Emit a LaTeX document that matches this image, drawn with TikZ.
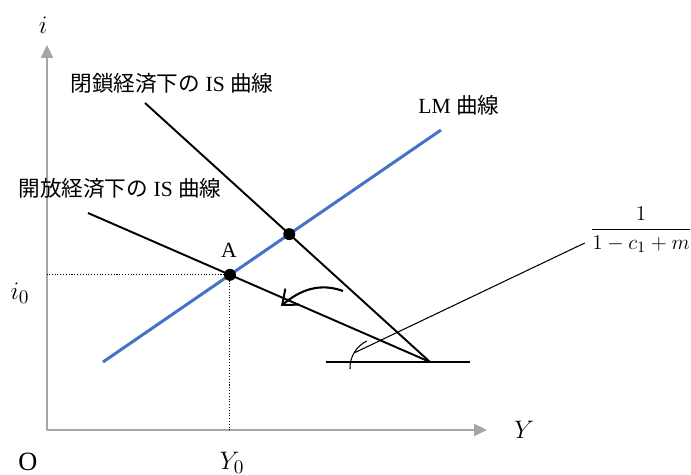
\documentclass[tikz,border=0pt]{standalone}
\usepackage{amsmath,amssymb}
\usepackage{fontspec}
\setmainfont{Liberation Serif}
\newfontfamily\jpfont{Noto Sans CJK JP}
\usepackage{tikz}
\usepackage{xcolor}
\usetikzlibrary{arrows.meta,positioning}
\definecolor{lmblue}{HTML}{4472C4}
\definecolor{axisgray}{HTML}{A6A6A6}

\begin{document}
\begin{tikzpicture}[x=0.02cm,y=0.02cm,
  lbl/.style={inner sep=0pt,font=\fontsize{12.3}{14}\selectfont},
  mlbl/.style={inner sep=0pt,font=\fontsize{15}{17}\selectfont},
  axisline/.style={-{Triangle[length=2.6mm,width=2.4mm]},line width=1.3pt,draw=axisgray},
  isline/.style={line width=1.1pt,draw=black},
  lmline/.style={line width=1.7pt,draw=lmblue},
  guide/.style={densely dotted,line width=0.6pt},
  leader/.style={line width=0.6pt,draw=black},
  dot/.style={circle,fill=black,inner sep=0pt,minimum size=0.24cm},
  shiftarrow/.style={-{Straight Barb[length=2.6mm,width=4.2mm,line width=1.1pt]},line width=1.2pt}
]
\useasboundingbox (0,0) rectangle (691,475);

\coordinate (origin) at (47,45);
\coordinate (itop) at (47,430);
\coordinate (yend) at (487,45);
\coordinate (lmlow) at (103,113);
\coordinate (lmhigh) at (441,345);
\coordinate (closedtop) at (145,372);
\coordinate (opentop) at (88,262);
\coordinate (pivot) at (430,113);
\coordinate (baseleft) at (326,113);
\coordinate (baseright) at (470,113);
\coordinate (A) at (intersection of lmlow--lmhigh and opentop--pivot);
\coordinate (B) at (intersection of lmlow--lmhigh and closedtop--pivot);
\coordinate (arcstart) at (366.8,134);
\coordinate (arcmark) at (354,122);
\coordinate (turnstart) at (343,184);
\coordinate (turnend) at (281,169);

\draw[axisline] (origin) -- (itop);
\draw[axisline] (origin) -- (yend);
\draw[guide] (A) -- (A -| origin);
\draw[guide] (A) -- (A |- origin);

\draw[lmline] (lmlow) -- (lmhigh);
\draw[isline] (closedtop) -- (pivot);
\draw[isline] (opentop) -- (pivot);
\draw[isline] (baseleft) -- (baseright);
\draw[shiftarrow] (turnstart) to[out=160,in=40] (turnend);

\node[dot] (pointA) at (A) {};
\node[dot] (pointB) at (B) {};

\node[mlbl] (ilabel) at (43,450) {$i$};
\node[mlbl] (ylabel) at (524,45) {$Y$};
\node[mlbl] (olabel) at (28,13) {O};
\node[mlbl] (yzero) at (232,12) {$Y_0$};
\node[mlbl] (izero) at (20,182) {$i_0$};
\node[lbl] (alabel) at (229,225) {A};
\node[lbl] (closedlabel) at (172,392) {{\jpfont 閉鎖経済下の} IS {\jpfont 曲線}};
\node[lbl] (openlabel) at (120,287) {{\jpfont 開放経済下の} IS {\jpfont 曲線}};
\node[lbl] (lmlabel) at (459,370) {LM {\jpfont 曲線}};
\node[lbl] (slope) at (641,245) {$\dfrac{1}{1-c_1+m}$};

\draw[leader] (arcstart) arc[start angle=116,end angle=182,radius=0.6cm];
\draw[leader] (arcmark) -- ([xshift=-0.1cm,yshift=-0.26cm]slope.west);
\end{tikzpicture}
\end{document}
